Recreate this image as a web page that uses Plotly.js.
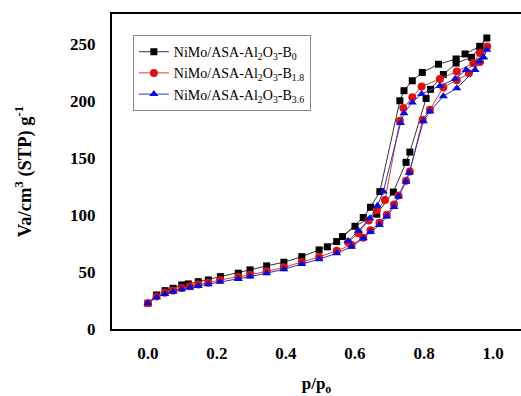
<!DOCTYPE html>
<html>
<head>
<meta charset="utf-8">
<script src="https://cdn.plot.ly/plotly-3.0.1.min.js"></script>
<style>html,body{margin:0;padding:0;overflow:hidden;background:#fff;}</style>
</head>
<body>
<div id="chart" style="width:521px;height:396px;"></div>
<script>
// Series names
const names = [
  "NiMo/ASA-Al<sub>2</sub>O<sub>3</sub>-B<sub>0</sub>",
  "NiMo/ASA-Al<sub>2</sub>O<sub>3</sub>-B<sub>1.8</sub>",
  "NiMo/ASA-Al<sub>2</sub>O<sub>3</sub>-B<sub>3.6</sub>"
];

// B0: adsorption then desorption (p/p0, Va)
const b0X = [0.0, 0.025, 0.05, 0.073, 0.098, 0.117, 0.146, 0.175, 0.21, 0.262, 0.296, 0.344, 0.394, 0.446, 0.496, 0.547, 0.6, 0.663, 0.711, 0.748, 0.759, 0.806, 0.819, 0.856, 0.893, 0.938, 0.962, 0.982,
             0.962, 0.919, 0.893, 0.842, 0.795, 0.766, 0.742, 0.730, 0.672, 0.645, 0.624, 0.564, 0.52];
const b0Y = [22.5, 29.8, 33.6, 35.7, 38.6, 39.5, 41.5, 43, 45.9, 48.9, 51.8, 55.3, 58.5, 63.4, 69.3, 76.6, 90, 100.6, 120, 146, 155, 202, 210, 223, 233, 238, 247.6, 255,
             247.6, 241, 236.6, 232, 224.8, 217.5, 208.8, 200, 120.4, 106.7, 97.7, 81, 72];

// B1.8
const b18X = [0.0, 0.025, 0.049, 0.073, 0.098, 0.122, 0.146, 0.175, 0.209, 0.262, 0.296, 0.344, 0.394, 0.446, 0.496, 0.547, 0.59, 0.624, 0.645, 0.671, 0.692, 0.713, 0.726, 0.748, 0.759, 0.796, 0.817, 0.856, 0.895, 0.93, 0.962, 0.983,
              0.962, 0.943, 0.895, 0.846, 0.793, 0.766, 0.740, 0.730, 0.687, 0.663, 0.64, 0.61, 0.58];
const b18Y = [22.5, 28.5, 31.8, 33.8, 36, 37.5, 39, 40.5, 43, 45.5, 47.5, 50.5, 54, 58.8, 63, 68.5, 73.7, 80, 86.5, 93, 100, 109, 117, 130, 138, 183.3, 192, 211.7, 218, 224, 234, 247.6,
              241.8, 233, 225.7, 219, 212.5, 203, 193.6, 182.5, 113, 104, 95, 84, 76];

// B3.6
const b36X = [0.0, 0.025, 0.049, 0.073, 0.098, 0.122, 0.146, 0.175, 0.209, 0.262, 0.296, 0.344, 0.394, 0.446, 0.496, 0.547, 0.590, 0.624, 0.645, 0.671, 0.692, 0.713, 0.726, 0.748, 0.757, 0.798, 0.817, 0.856, 0.895, 0.948, 0.960, 0.972, 0.982,
              0.972, 0.922, 0.890, 0.846, 0.793, 0.766, 0.742, 0.732, 0.682, 0.665, 0.643, 0.610, 0.58];
const b36Y = [22.5, 27.8, 30.7, 32.7, 34.8, 36.2, 37.7, 39.2, 41.5, 43.9, 45.9, 48.9, 52.4, 57, 61.1, 66.4, 72, 79.5, 85, 91.2, 98.5, 107, 116, 129, 137, 182, 190.6, 204, 211, 227, 234.5, 238, 244.7,
              238, 227, 219, 213, 206, 198.5, 189, 180.4, 120.4, 108, 97, 86, 77];

const xTicks = [0.0, 0.2, 0.4, 0.6, 0.8, 1.0];
const xTickText = ["0.0", "0.2", "0.4", "0.6", "0.8", "1.0"];
const yTicks = [0, 50, 100, 150, 200, 250];

const SERIF = "Liberation Serif";

const traces = [
  {x: b0X, y: b0Y, name: names[0], mode: "lines+markers",
   line: {color: "#333333", width: 1},
   marker: {symbol: "square", size: 7, color: "#000000"}},
  {x: b18X, y: b18Y, name: names[1], mode: "lines+markers",
   line: {color: "#d04040", width: 1},
   marker: {symbol: "circle", size: 8, color: "#e01010"}},
  {x: b36X, y: b36Y, name: names[2], mode: "lines+markers",
   line: {color: "#3030c0", width: 1},
   marker: {symbol: "triangle-up", size: 8, color: "#0a0ad8"}}
];

const tickFont = {family: SERIF, size: 17, color: "#000", weight: "bold"};
const yTitleFont = {family: SERIF, size: 18.5, color: "#000", weight: "bold"};

const layout = {
  width: 521, height: 396,
  margin: {l: 112, r: 0, t: 14, b: 67},
  paper_bgcolor: "#fff", plot_bgcolor: "#fff",
  showlegend: true,
  font: {family: SERIF, color: "#000"},
  legend: {
    x: 0.051, y: 0.933, xanchor: "left", yanchor: "top",
    bordercolor: "#888", borderwidth: 1, bgcolor: "rgba(255,255,255,0)",
    font: {family: SERIF, size: 14, color: "#000", weight: "normal"},
    itemwidth: 30, tracegroupgap: 0
  },
  xaxis: {
    range: [-0.104, 1.081], tickvals: xTicks, ticktext: xTickText,
    showgrid: false, zeroline: false, showline: true, mirror: true,
    linecolor: "#000", linewidth: 2, ticks: "", ticklabelstandoff: 8,
    tickfont: tickFont,
    title: {text: "p/p<sub>o</sub>", font: tickFont, standoff: 27}
  },
  yaxis: {
    range: [0, 276], tickvals: yTicks,
    showgrid: false, zeroline: false, showline: true, mirror: false,
    linecolor: "#000", linewidth: 2, ticks: "", ticklabelstandoff: 11,
    tickfont: tickFont,
    title: {text: "Va/cm<sup>3</sup> (STP) g<sup>-1</sup>", font: yTitleFont, standoff: 34}
  }
};

Plotly.newPlot("chart", traces, layout, {displayModeBar: false, staticPlot: true});
</script>
</body>
</html>
